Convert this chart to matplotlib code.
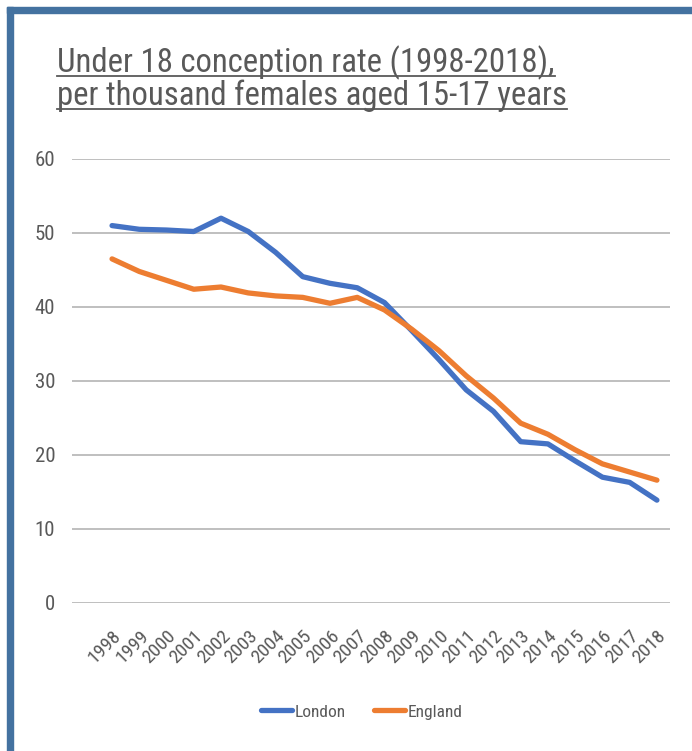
import numpy as np
import matplotlib.pyplot as plt
from matplotlib.patches import Rectangle
from matplotlib.lines import Line2D

years = [str(y) for y in range(1998, 2019)]
london = [51.0, 50.5, 50.4, 50.2, 52.0, 50.2, 47.4, 44.1, 43.2, 42.6, 40.6,
          36.8, 32.9, 28.8, 25.9, 21.8, 21.5, 19.2, 17.0, 16.3, 13.9]
england = [46.5, 44.8, 43.6, 42.4, 42.7, 41.9, 41.5, 41.3, 40.5, 41.3, 39.6,
           37.0, 34.1, 30.7, 27.7, 24.3, 22.8, 20.7, 18.8, 17.7, 16.6]
y_ticks = [0, 10, 20, 30, 40, 50, 60]

title_lines = ['Under 18 conception rate (1998-2018),',
               'per thousand females aged 15-17 years']

font = ['Roboto Condensed', 'Archivo Narrow', 'DejaVu Sans']
grey = '#595959'

fig = plt.figure(figsize=(6.92, 7.51), dpi=100)

# ramka w stylu Excela (lewa i gorna krawedz)
border = '#4472A0'
fig.patches.append(Rectangle((7 / 692, 0), 6 / 692, 1 - 7 / 751,
                             transform=fig.transFigure, color=border, zorder=0))
fig.patches.append(Rectangle((7 / 692, 1 - 13 / 751), 1, 6 / 751,
                             transform=fig.transFigure, color=border, zorder=0))

ax = fig.add_axes([72 / 692, 1 - 603 / 751, 598 / 692, 444 / 751])

x = np.arange(len(years))
ax.plot(x, london, color='#4472C4', lw=3.8, solid_capstyle='round',
        solid_joinstyle='round', label='London', zorder=3)
ax.plot(x, england, color='#ED7D31', lw=3.8, solid_capstyle='round',
        solid_joinstyle='round', label='England', zorder=3)

ax.set_ylim(0, 60)
ax.set_xlim(-1.47, 20.48)
ax.set_yticks(y_ticks)
ax.set_xticks(x)
ax.set_xticklabels(years, rotation=45, ha='right', rotation_mode='anchor',
                   family=font, fontsize=14, color=grey)
ax.set_yticklabels([str(v) for v in y_ticks], family=font, fontsize=15,
                   color=grey)
ax.tick_params(axis='both', length=0)
ax.tick_params(axis='y', pad=12)
ax.tick_params(axis='x', pad=17)
ax.grid(axis='y', color='#BFBFBF', lw=1.4)
ax.set_axisbelow(True)
for s in ax.spines.values():
    s.set_visible(False)

# legenda na dole
handles = [Line2D([], [], color='#4472C4', lw=3.8, solid_capstyle='round'),
           Line2D([], [], color='#ED7D31', lw=3.8, solid_capstyle='round')]
fig.legend(handles, ['London', 'England'], loc='center',
           bbox_to_anchor=(362 / 692, 1 - 712 / 751), ncol=2, frameon=False,
           prop={'family': font, 'size': 12.5}, handlelength=1.8,
           handletextpad=0.15, columnspacing=1.6, labelcolor=grey)

# tytul z podkresleniem
fig.canvas.draw()
renderer = fig.canvas.get_renderer()
for i, line in enumerate(title_lines):
    y_base = 1 - (72 + i * 33) / 751
    t = fig.text(57 / 692, y_base, line, family=font, fontsize=23.6,
                 color=grey, va='baseline', ha='left')
    bb = t.get_window_extent(renderer=renderer)
    x0 = bb.x0 / fig.bbox.width
    x1 = bb.x1 / fig.bbox.width
    yu = y_base - 4 / 751
    fig.add_artist(Line2D([x0, x1], [yu, yu], transform=fig.transFigure,
                          color=grey, lw=1.3))

fig.savefig('out.png', dpi=100)
